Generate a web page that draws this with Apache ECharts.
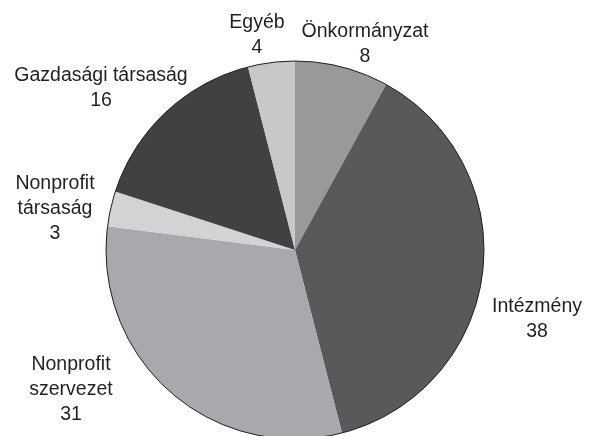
<!DOCTYPE html>
<html>
<head>
<meta charset="utf-8">
<script src="https://cdn.jsdelivr.net/npm/echarts@6/dist/echarts.min.js"></script>
<style>
html,body{margin:0;padding:0;background:#fff;}
#chart{width:590px;height:436px;}
</style>
</head>
<body>
<div id="chart"></div>
<script>
var categories = ['Önkormányzat', 'Intézmény', 'Nonprofit\nszervezet', 'Nonprofit\ntársaság', 'Gazdasági társaság', 'Egyéb'];
var values = [8, 38, 31, 3, 16, 4];
var colors = ['#98999b', '#58595b', '#a7a9ac', '#d1d3d4', '#414042', '#c7c8ca'];

var labelPos = [
  [365, 44], [537, 319], [71, 390], [55, 209], [101, 88], [257, 35]
];

var chart = echarts.init(document.getElementById('chart'), null, {renderer: 'canvas'});
var data = categories.map(function (c, i) {
  return {name: c, value: values[i], itemStyle: {color: colors[i]}};
});
chart.setOption({
  animation: false,
  backgroundColor: '#ffffff',
  series: [
    {
      type: 'pie',
      center: [295, 250],
      radius: [0, 189],
      startAngle: 90,
      clockwise: true,
      avoidLabelOverlap: false,
      data: data,
      itemStyle: {borderWidth: 0},
      label: {
        show: true,
        position: 'outside',
        formatter: '{b}\n{c}',
        fontFamily: 'Liberation Sans',
        fontSize: 19.5,
        lineHeight: 25,
        color: '#231f20',
        align: 'center'
      },
      labelLine: {show: false},
      labelLayout: function (p) {
        var pos = labelPos[p.dataIndex];
        return {x: pos[0], y: pos[1], align: 'center', verticalAlign: 'middle'};
      },
      emphasis: {disabled: true}
    },
    {
      type: 'pie',
      center: [295, 250],
      radius: [0, 189],
      silent: true,
      data: [{value: 1, name: 'outline'}],
      itemStyle: {color: 'rgba(0,0,0,0)', borderColor: '#231f20', borderWidth: 1},
      label: {show: false},
      labelLine: {show: false},
      emphasis: {disabled: true}
    }
  ]
});
</script>
</body>
</html>
